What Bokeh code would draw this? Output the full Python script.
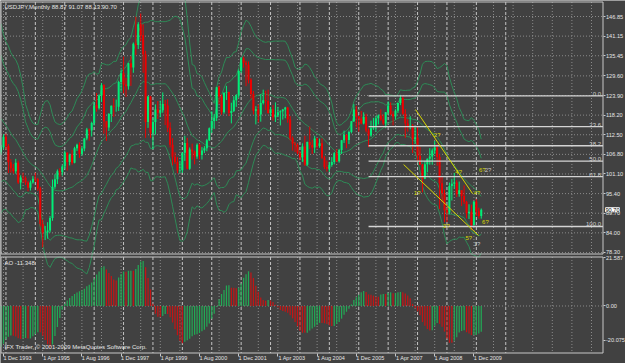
import numpy as np
from bokeh.plotting import figure
from bokeh.models import Range1d, FixedTicker, Label, LinearAxis, ColumnDataSource
from bokeh.core.properties import value
from bokeh.embed import file_html
from bokeh.resources import INLINE

FONT = "Liberation Sans"

# ---------------------------------------------------------------- data
# USDJPY monthly bars, Jan 1991 .. Mar 2010 (bars before Dec 1993 only feed the indicators)
first_open = 135.4
close_ = [
    133.1, 132.4, 140.6, 137.3, 138.4, 138.0, 137.6, 136.6, 133.0, 130.5, 129.9, 124.9,  # 1991
    125.1, 129.6, 133.0, 133.3, 128.0, 125.9, 127.3, 123.4, 119.6, 123.6, 124.7, 124.8,  # 1992
    124.9, 117.4, 115.4, 111.1, 107.3, 106.5, 104.6, 104.4, 105.8, 107.4, 108.9, 111.9,  # 1993
    109.2, 104.5, 102.8, 101.9, 104.4, 98.6, 100.1, 99.9, 98.6, 97.1, 98.6, 99.7,        # 1994
    99.6, 96.9, 86.6, 84.1, 84.1, 84.7, 88.3, 97.4, 99.6, 101.9, 101.6, 103.3,           # 1995
    107.3, 104.6, 106.7, 104.4, 108.6, 109.6, 106.9, 108.5, 111.4, 114.0, 113.7, 115.9,  # 1996
    121.1, 120.2, 123.9, 126.9, 116.4, 114.6, 118.5, 120.9, 120.6, 120.6, 127.8, 130.4,  # 1997
    127.1, 126.6, 133.3, 132.0, 138.9, 138.6, 144.6, 141.4, 135.9, 116.2, 123.6, 113.1,  # 1998
    116.2, 119.8, 118.9, 119.6, 121.4, 121.0, 114.5, 109.6, 106.1, 104.6, 102.1, 102.2,  # 1999
    107.3, 110.1, 102.6, 108.2, 107.6, 106.2, 109.6, 106.6, 107.9, 108.6, 110.9, 114.4,  # 2000
    116.5, 117.4, 126.3, 123.6, 119.0, 124.7, 124.9, 118.8, 119.4, 122.5, 123.9, 131.0,  # 2001
    134.7, 133.4, 132.8, 128.5, 124.3, 119.5, 119.9, 118.4, 121.7, 122.5, 122.3, 118.8,  # 2002
    119.9, 117.6, 118.1, 119.0, 119.3, 119.8, 120.4, 116.9, 111.5, 109.9, 109.5, 107.2,  # 2003
    105.9, 109.1, 103.8, 110.4, 109.5, 108.8, 111.4, 109.2, 110.0, 105.8, 103.1, 102.6,  # 2004
    103.7, 104.6, 107.1, 104.8, 108.1, 110.9, 112.5, 111.0, 113.3, 116.4, 119.8, 117.8,  # 2005
    117.2, 115.8, 117.7, 113.7, 112.3, 114.4, 114.7, 117.3, 118.1, 116.9, 115.8, 119.0,  # 2006
    121.0, 118.5, 117.8, 119.5, 121.7, 123.2, 118.6, 115.8, 114.8, 115.2, 111.2, 111.7,  # 2007
    106.4, 103.8, 99.7, 103.9, 105.5, 106.2, 107.9, 108.8, 106.0, 98.4, 95.5, 90.6,      # 2008
    89.9, 97.6, 98.3, 98.6, 95.3, 96.4, 94.7, 93.0, 89.7, 90.1, 86.3, 93.1,              # 2009
    90.3, 88.87, 90.70,                                                                  # 2010
]
high_ = [
    136.0, 134.5, 141.3, 141.0, 139.6, 141.7, 139.4, 138.0, 137.2, 133.6, 131.5, 130.1,
    128.1, 129.9, 134.6, 134.8, 133.7, 128.4, 128.0, 127.6, 124.0, 124.2, 126.0, 125.2,
    126.1, 125.0, 119.3, 115.8, 112.2, 110.0, 110.2, 107.4, 107.0, 108.2, 109.5, 112.6,
    112.8, 109.8, 105.4, 104.0, 105.5, 105.0, 100.7, 101.5, 100.4, 99.0, 99.2, 100.5,
    101.5, 100.0, 97.4, 87.8, 86.0, 87.1, 88.9, 99.5, 101.0, 102.4, 102.8, 103.8,
    107.9, 107.4, 107.0, 108.1, 109.0, 109.9, 110.3, 109.0, 111.6, 114.5, 114.3, 116.3,
    122.0, 124.6, 124.2, 127.5, 127.2, 116.4, 118.8, 121.0, 123.1, 122.7, 128.2, 131.5,
    135.2, 129.0, 133.4, 135.3, 139.3, 146.8, 145.2, 147.7, 144.6, 136.9, 123.8, 123.8,
    117.3, 121.3, 122.3, 122.4, 124.8, 122.6, 122.8, 116.1, 111.5, 107.4, 106.0, 104.6,
    107.4, 112.2, 111.6, 108.8, 109.9, 107.9, 110.0, 109.9, 108.9, 109.2, 111.3, 114.6,
    119.3, 118.5, 126.4, 126.8, 124.2, 124.8, 126.7, 125.0, 121.8, 123.7, 124.3, 131.5,
    135.0, 135.2, 134.0, 133.8, 128.9, 125.2, 120.8, 121.3, 124.3, 125.6, 125.3, 125.6,
    120.5, 121.1, 121.9, 120.6, 119.6, 120.0, 120.6, 120.6, 117.9, 112.0, 110.4, 110.0,
    107.8, 110.0, 112.2, 110.5, 114.9, 111.0, 112.2, 111.5, 111.4, 111.4, 106.3, 105.0,
    104.6, 106.0, 107.5, 108.3, 108.4, 111.0, 113.7, 112.6, 113.7, 116.5, 121.4, 120.9,
    117.9, 119.4, 119.0, 118.6, 114.3, 116.6, 117.4, 118.0, 118.4, 119.9, 118.4, 119.1,
    122.2, 121.9, 119.3, 119.9, 121.8, 124.1, 123.7, 119.9, 117.0, 117.9, 115.6, 114.7,
    114.7, 108.9, 104.0, 104.9, 105.6, 108.6, 108.5, 110.7, 109.8, 106.9, 100.5, 96.6,
    91.3, 98.6, 99.7, 101.4, 99.3, 98.9, 96.4, 97.8, 93.3, 92.3, 92.2, 93.2,
    93.8, 91.3, 91.07,
]
low_ = [
    130.5, 127.5, 131.0, 134.5, 136.3, 137.1, 135.8, 135.5, 131.8, 129.8, 128.1, 124.8,
    122.9, 124.8, 129.5, 131.9, 127.4, 125.1, 125.0, 123.0, 118.6, 119.2, 122.8, 122.0,
    123.0, 116.9, 113.4, 109.8, 105.6, 105.8, 104.0, 100.4, 103.1, 103.5, 106.7, 108.3,
    108.2, 101.4, 101.5, 101.2, 101.2, 98.2, 96.6, 98.6, 97.9, 96.1, 96.3, 98.3,
    98.8, 96.2, 85.9, 79.8, 81.9, 82.3, 84.1, 87.5, 96.8, 98.2, 100.3, 100.6,
    102.6, 102.1, 103.6, 103.8, 104.2, 107.8, 105.8, 106.4, 107.7, 110.9, 110.8, 112.0,
    115.2, 119.2, 119.8, 122.0, 112.8, 110.7, 113.6, 116.2, 117.7, 119.2, 119.4, 125.0,
    124.5, 123.5, 125.6, 126.7, 130.5, 135.6, 137.4, 139.6, 130.5, 111.6, 114.5, 111.6,
    108.3, 112.5, 117.1, 117.6, 118.9, 115.3, 113.3, 108.8, 103.6, 104.0, 101.3, 101.4,
    101.4, 104.9, 102.4, 102.3, 105.3, 103.9, 105.5, 105.3, 105.3, 107.2, 107.7, 110.7,
    113.0, 114.2, 116.5, 121.4, 118.3, 118.6, 122.6, 117.9, 115.8, 119.1, 120.6, 123.2,
    130.4, 132.0, 126.6, 127.4, 123.0, 118.4, 115.5, 116.1, 116.3, 121.3, 119.7, 118.6,
    117.8, 116.6, 116.2, 117.6, 115.2, 116.9, 117.3, 116.0, 110.9, 107.9, 107.5, 106.8,
    105.2, 104.6, 103.4, 103.5, 108.4, 106.9, 107.2, 108.4, 108.7, 105.5, 102.5, 101.8,
    101.7, 103.2, 103.9, 104.6, 104.4, 106.9, 110.1, 108.6, 109.8, 112.9, 116.2, 114.6,
    113.4, 115.5, 115.5, 113.2, 108.9, 111.9, 113.9, 113.4, 115.5, 116.6, 115.3, 114.4,
    118.4, 118.2, 115.2, 117.0, 118.8, 121.1, 118.3, 111.6, 113.4, 114.1, 107.2, 109.9,
    104.9, 103.7, 95.8, 99.6, 101.6, 103.8, 103.8, 106.9, 103.5, 90.9, 92.8, 87.1,
    87.1, 89.4, 93.4, 96.9, 94.4, 94.5, 91.8, 92.4, 88.2, 88.0, 84.8, 86.1,
    88.9, 88.1, 88.13,
]
FIRST_VISIBLE = 35          # Dec 1993 = bar 0 of the chart

date_ticks = [0, 16, 32, 48, 64, 80, 96, 112, 128, 144, 160, 176, 192]
date_labels = ["1 Dec 1993", "1 Apr 1995", "1 Aug 1996", "1 Dec 1997", "1 Apr 1999",
               "1 Aug 2000", "1 Dec 2001", "1 Apr 2003", "1 Aug 2004", "1 Dec 2005",
               "1 Apr 2007", "1 Aug 2008", "1 Dec 2009"]
price_ticks = [146.85, 141.15, 135.45, 129.60, 123.90, 118.20, 112.50, 106.80,
               101.10, 95.40, 89.70, 84.00, 78.30]
price_labels = ["146.85", "141.15", "135.45", "129.60", "123.90", "118.20", "112.50",
                "106.80", "101.10", "95.40", "89.70", "84.00", "78.30"]
ao_ticks = [21.587, 0.0, -15.3]          # where the terminal prints its AO scale labels
ao_labels = ["21.587", "0.00", "-20.075"]

current_price = 90.70
title_text = "USDJPY,Monthly  88.87 91.07 88.13 90.70"
ao_text = "AO -11.348"
copyright_text = "IFX Trader, \u00a9 2001-2009 MetaQuotes Software Corp."

fib_high, fib_low, fib_start = 123.8, 85.85, 149
fib_ratios = [0.0, 23.6, 38.2, 50.0, 61.8, 100.0]
fib_labels = ["0.0", "23.6", "38.2", "50.0", "61.8", "100.0"]

trend_x0 = [168.2, 163.3]
trend_y0 = [119.8, 103.86]
trend_x1 = [191.4, 193.9]
trend_y1 = [95.43, 83.23]

wave_x = [168.9, 177.0, 180.8, 185.8, 189.9, 193.3, 193.3, 195.4, 197.8, 196.7]
wave_y = [95.63, 112.57, 85.93, 101.62, 82.56, 95.52, 80.82, 102.32, 102.32, 87.21]
wave_t = ["1?", "2?", "3?", "4?", "5?", "4?", "1?", "6?", "2?", "6?"]
wave_c = ["#d8d800", "#d8d800", "#d8d800", "#d8d800", "#d8d800", "#d8d800",
          "#c8c8c8", "#d8d800", "#c8c8c8", "#d8d800"]

# ---------------------------------------------------------------- layout / styling
BG = "#414141"
BORDER = "#c8c8c8"
TXT = "#e6e6e6"
UP = "#00ee78"
DOWN = "#ee0000"
BAND = "#2e8b57"
W, H = 625, 363
BAR_PX, BAR0_PX = 2.45, 3.0                  # bar spacing and screen x of bar 0
PRICE_PX, PRICE_REF, PRICE_REF_Y = 0.2905, 146.85, 16.0
AO_PX, AO_REF, AO_REF_Y = 0.4451, 21.587, 257.0


def bx(px):
    return (px - BAR0_PX) / BAR_PX


def py(px):
    return PRICE_REF - (px - PRICE_REF_Y) * PRICE_PX


def ay(px):
    return AO_REF - (px - AO_REF_Y) * AO_PX


x_lo, x_hi = bx(0), bx(W)
x_right = bx(602.5)                      # right border of the chart windows
p_lo, p_hi = py(H), py(0)
a_lo, a_hi = ay(H), ay(0)
main_top, main_bot = py(1.5), py(253.5)
ao_top, ao_bot = ay(256.5), ay(352.5)
x_left = bx(0.5)


def ao_to_price(a):
    return p_hi - (p_hi - p_lo) * (a_hi - a) / (a_hi - a_lo)


# ---------------------------------------------------------------- indicators
c = np.array(close_)
h = np.array(high_)
l = np.array(low_)
o = np.concatenate([[first_open], c[:-1]])
n = len(c)
bar = np.arange(n) - FIRST_VISIBLE
vis = bar >= -1

mid = np.full(n, np.nan)
sd = np.full(n, np.nan)
for i in range(19, n):
    w = c[i - 19:i + 1]
    mid[i] = w.mean()
    sd[i] = w.std()

med = (h + l) / 2
ao = np.full(n, np.nan)
for i in range(33, n):
    ao[i] = med[i - 4:i + 1].mean() - med[i - 33:i + 1].mean()
ao_up = np.concatenate([[False], ao[1:] > ao[:-1]])

# ---------------------------------------------------------------- figure
p = figure(width=W, height=H, x_range=Range1d(x_lo, x_hi), y_range=Range1d(p_lo, p_hi),
           output_backend="svg", toolbar_location=None, x_axis_location=None,
           y_axis_location=None, min_border=0, background_fill_color=BG,
           border_fill_color=BG, outline_line_color=None)
p.extra_y_ranges = {"ao": Range1d(a_lo, a_hi)}
p.xgrid.visible = False
p.ygrid.visible = False

GRID = dict(line_color="#8a8a8a", line_dash="1 2", line_width=1)
SEP = dict(line_color="#c4c4c4", line_dash="3 2", line_width=1)

# grid, drawn inside the two windows only
vgrid = [float(b) for b in range(0, 245, 8)]
p.segment(x0=vgrid, y0=[main_top] * len(vgrid), x1=vgrid, y1=[main_bot] * len(vgrid), **GRID)
p.segment(x0=vgrid, y0=[ao_top] * len(vgrid), x1=vgrid, y1=[ao_bot] * len(vgrid),
          y_range_name="ao", **GRID)
p.segment(x0=[x_left] * len(price_ticks), y0=price_ticks, x1=[x_right] * len(price_ticks),
          y1=price_ticks, **GRID)
p.segment(x0=[x_left], y0=[0.0], x1=[x_right], y1=[0.0], y_range_name="ao", **GRID)

# yearly period separators
seps = [float(b) for b in range(-1, 206) if (b + FIRST_VISIBLE) % 12 == 0]
p.segment(x0=seps, y0=[main_top] * len(seps), x1=seps, y1=[main_bot] * len(seps), **SEP)
p.segment(x0=seps, y0=[ao_top] * len(seps), x1=seps, y1=[ao_bot] * len(seps),
          y_range_name="ao", **SEP)

# bollinger bands 20 (2 and 3 deviations)
xv = bar[vis]
for line in (mid, mid + 2 * sd, mid - 2 * sd, mid + 3 * sd, mid - 3 * sd):
    p.line(xv, line[vis], line_color=BAND, line_width=1)

# candles
for mask, col in ((c >= o, UP), (c < o, DOWN)):
    m = mask & vis
    src = ColumnDataSource(dict(x=bar[m], h=h[m], l=l[m],
                                top=np.maximum(o[m], c[m]), bot=np.minimum(o[m], c[m])))
    p.segment(x0="x", y0="l", x1="x", y1="h", source=src, line_color=col, line_width=1)
    p.vbar(x="x", top="top", bottom="bot", width=0.82, source=src, fill_color=col,
           line_color=None)

# AO histogram
for mask, col in ((ao_up, "#22a955"), (~ao_up, "#c41414")):
    m = mask & vis
    p.vbar(x=bar[m], top=ao[m], bottom=0, width=0.5, fill_color=col, line_color=None,
           y_range_name="ao")

# fibonacci retracement
fib_levels = [fib_high - r / 100 * (fib_high - fib_low) for r in fib_ratios]
p.segment(x0=[fib_start] * 6, y0=fib_levels, x1=[x_right] * 6, y1=fib_levels,
          line_color="#d4d4d4", line_width=1.3)
p.text(x=[x_right] * 6, y=fib_levels, text=fib_labels, text_align="right",
       text_baseline="bottom", x_offset=-2, text_color="#cfcfcf",
       text_font=value(FONT), text_font_size="6px")

# trend lines and wave labels
p.segment(x0=trend_x0, y0=trend_y0, x1=trend_x1, y1=trend_y1, line_color="#d6d600",
          line_width=1)
p.text(x=wave_x, y=wave_y, text=wave_t, text_color=wave_c, text_align="center",
       text_baseline="middle", text_font=value(FONT), text_font_size="6px")

# window frames
p.quad(left=[x_left], right=[x_right], top=[main_top], bottom=[main_bot],
       fill_color=None, line_color=BORDER, line_width=1)
p.quad(left=[x_left], right=[x_right], top=[ao_top], bottom=[ao_bot],
       fill_color=None, line_color=BORDER, line_width=1, y_range_name="ao")

# price / AO scale on the right
ax = LinearAxis(fixed_location=x_right)
ax.ticker = FixedTicker(ticks=price_ticks + [ao_to_price(v) for v in ao_ticks])
ov = {t: s for t, s in zip(price_ticks, price_labels)}
ov.update({ao_to_price(v): s for v, s in zip(ao_ticks, ao_labels)})
ax.major_label_overrides = ov
ax.axis_line_color = None
ax.major_tick_line_color = BORDER
ax.major_tick_out = 2
ax.major_tick_in = 0
ax.minor_tick_line_color = None
ax.major_label_standoff = 1
ax.major_label_text_color = TXT
ax.major_label_text_font = FONT
ax.major_label_text_font_size = "5.6px"
p.add_layout(ax, "right")

# time scale: tick marks at the bars, labels starting at the tick (left aligned)
x_axis_y = ao_to_price(ao_bot)
xt = LinearAxis(fixed_location=x_axis_y)
xt.ticker = FixedTicker(ticks=date_ticks)
xt.major_label_text_alpha = 0
xt.axis_line_color = None
xt.major_tick_line_color = BORDER
xt.major_tick_out = 3
xt.major_tick_in = 0
xt.minor_tick_line_color = None
p.add_layout(xt, "below")

LABEL_SHIFT = 5.7                          # half a label width, in bars
xl = LinearAxis(fixed_location=x_axis_y)
xl.ticker = FixedTicker(ticks=[t + LABEL_SHIFT for t in date_ticks])
xl.major_label_overrides = {t + LABEL_SHIFT: s for t, s in zip(date_ticks, date_labels)}
xl.axis_line_color = None
xl.major_tick_line_color = None
xl.minor_tick_line_color = None
xl.major_tick_out = 0
xl.major_tick_in = 0
xl.major_label_standoff = 2
xl.major_label_text_color = TXT
xl.major_label_text_font = FONT
xl.major_label_text_font_size = "5.5px"
p.add_layout(xl, "below")

# current price box on the scale
p.add_layout(Label(x=x_right, y=current_price, x_offset=2.5, text="90.70",
                   text_color="black", text_baseline="middle", text_font=FONT,
                   text_font_size="5.6px", background_fill_color="white",
                   border_line_color="white", level="overlay"))

# window captions
p.add_layout(Label(x=4, y=H - 6, x_units="screen", y_units="screen", text=title_text,
                   text_color=TXT, text_baseline="middle", text_font=FONT,
                   text_font_size="6px"))
p.add_layout(Label(x=4, y=H - 262, x_units="screen", y_units="screen", text=ao_text,
                   text_color=TXT, text_baseline="middle", text_font=FONT,
                   text_font_size="6px"))
p.add_layout(Label(x=4, y=H - 346, x_units="screen", y_units="screen",
                   text=copyright_text, text_color=TXT, text_baseline="middle",
                   text_font=FONT, text_font_size="6px"))

open("out.html", "w").write(file_html(p, INLINE))
